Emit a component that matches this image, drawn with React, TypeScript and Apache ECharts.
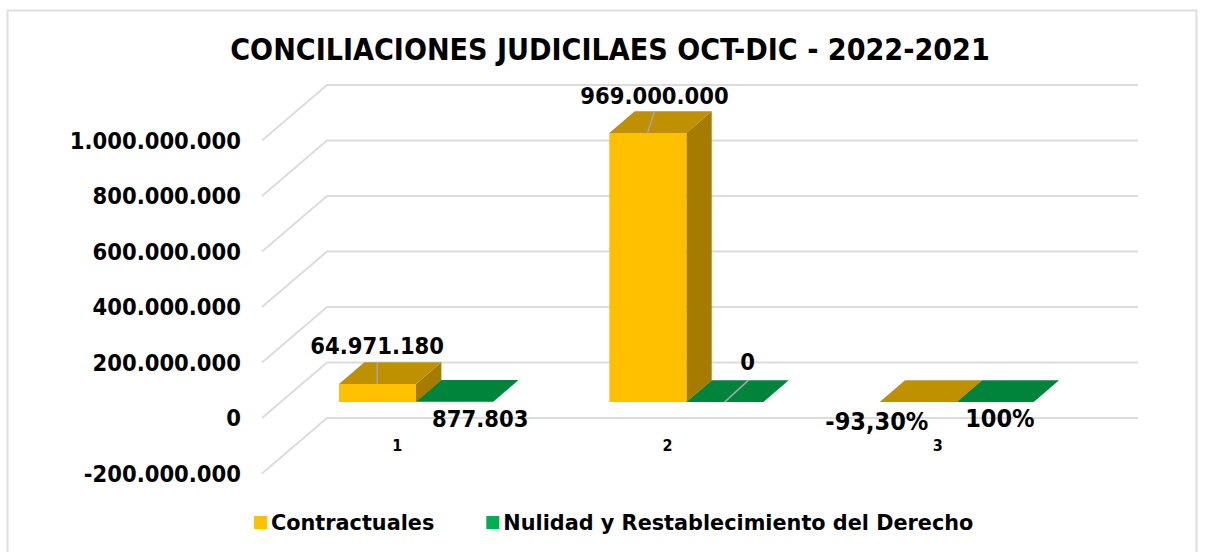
import React, { useEffect, useRef } from "react";
import * as echarts from "echarts";

const chartTitle = "CONCILIACIONES JUDICILAES OCT-DIC - 2022-2021";
const categories = ["1", "2", "3"];
const contractuales = [64971180, 969000000, -0.933];
const nulidad = [877803, 0, 1];
const contractualesLabels = ["64.971.180", "969.000.000", "-93,30%"];
const nulidadLabels = ["877.803", "0", "100%"];
const axisTicks = [-200000000, 0, 200000000, 400000000, 600000000, 800000000, 1000000000];

const FONT = "'DejaVu Sans Condensed', 'DejaVu Sans', sans-serif";
const DX = 65;
const DY = -55.5;
const D_FRONT = 0.29;
const D_BACK = 0.68;
const BAR_RATIO = 0.285;

function fmt(v: number) {
  return String(v).replace(/\B(?=(\d{3})+(?!\d))/g, ".");
}

function barRender(side: -1 | 1, front: string, top: string, right: string) {
  return (params: any, api: any) => {
    const cat = api.value(0);
    const val = api.value(1);
    const w = api.size([1, 0])[0] * BAR_RATIO;
    const base = api.coord([cat, 0]);
    const head = api.coord([cat, val]);
    const x0 = base[0] + DX * D_FRONT + (side < 0 ? -w : 0);
    const x1 = x0 + w;
    const yb = base[1] + DY * D_FRONT;
    const yt = head[1] + DY * D_FRONT;
    const ox = DX * (D_BACK - D_FRONT);
    const oy = DY * (D_BACK - D_FRONT);
    return {
      type: "group",
      children: [
        { type: "polygon", shape: { points: [[x1, yb], [x1 + ox, yb + oy], [x1 + ox, yt + oy], [x1, yt]] }, style: { fill: right } },
        { type: "polygon", shape: { points: [[x0, yt], [x1, yt], [x1 + ox, yt + oy], [x0 + ox, yt + oy]] }, style: { fill: top } },
        { type: "rect", shape: { x: x0, y: yt, width: w, height: yb - yt }, style: { fill: front } },
      ],
    };
  };
}

function wallRender(params: any, api: any) {
  const p = api.coord([0, api.value(1)]);
  const left = params.coordSys.x;
  const right = left + params.coordSys.width;
  return {
    type: "polyline",
    shape: { points: [[left, p[1]], [left + DX, p[1] + DY], [right + DX, p[1] + DY]] },
    style: { fill: "none", stroke: "#DCDCDC", lineWidth: 2 },
  };
}

// label offset from the middle of the bar's top face, and the leader line if one is drawn
const contractualesLabelPos = [
  { dx: -13, dy: -27, size: 23.5, leader: [[-13, 11], [-13, -11]] },
  { dx: -6, dy: -26, size: 23.5, leader: [[-13, 11], [-6, -11]] },
  { dx: -54, dy: 30, size: 25, leader: null },
];
const nulidadLabelPos = [
  { dx: 13, dy: 28, size: 23.5, leader: null },
  { dx: 10, dy: -29, size: 23.5, leader: [[-13, 11], [11, -11]] },
  { dx: -8, dy: 27, size: 25, leader: null },
];

function labelRender(side: -1 | 1, texts: string[], pos: any[]) {
  return (params: any, api: any) => {
    const cat = api.value(0);
    const val = api.value(1);
    const w = api.size([1, 0])[0] * BAR_RATIO;
    const head = api.coord([cat, val]);
    const dm = (D_FRONT + D_BACK) / 2;
    const cx = head[0] + DX * dm + (side * w) / 2;
    const cy = head[1] + DY * dm;
    const p = pos[params.dataIndex];
    const children: any[] = [];
    if (p.leader) {
      children.push({
        type: "line",
        shape: { x1: cx + p.leader[0][0], y1: cy + p.leader[0][1], x2: cx + p.leader[1][0], y2: cy + p.leader[1][1] },
        style: { stroke: "#A6A6A6", lineWidth: 1.5 },
      });
    }
    children.push({
      type: "text",
      x: cx + p.dx,
      y: cy + p.dy,
      style: {
        text: texts[params.dataIndex],
        fontFamily: FONT,
        fontWeight: "bold",
        fontSize: p.size,
        fill: "#000",
        align: "center",
        verticalAlign: "middle",
      },
    });
    return { type: "group", children };
  };
}

export default function App() {
  const ref = useRef<HTMLDivElement>(null);
  useEffect(() => {
    document.body.style.margin = "0";
    const chart = echarts.init(ref.current!, undefined, { renderer: "svg" });
    const enc = { x: 0, y: 1 };
    chart.setOption({
      animation: false,
      backgroundColor: "#fff",
      title: {
        text: chartTitle,
        left: 605,
        top: 29,
        textAlign: "center",
        textStyle: { fontFamily: FONT, fontWeight: "bold", fontSize: 30.1, color: "#000" },
      },
      graphic: [
        { type: "rect", shape: { x: 7.5, y: 10.5, width: 1189, height: 560 }, style: { fill: "none", stroke: "#DEDEDE", lineWidth: 2 }, z: -1 },
      ],
      legend: {
        data: ["Contractuales", "Nulidad y Restablecimiento del Derecho"],
        left: 254,
        top: 512,
        padding: 0,
        icon: "rect",
        itemWidth: 13,
        itemHeight: 13,
        itemGap: 52,
        textStyle: { fontFamily: "'DejaVu Sans', sans-serif", fontWeight: "bold", fontSize: 20.8, color: "#000", padding: [0, 0, 0, -1] },
      },
      grid: { left: 262, right: 135, top: 140.5, bottom: 78.5 },
      xAxis: {
        type: "category",
        data: categories,
        offset: -54,
        axisLine: { show: false, onZero: false },
        axisTick: { show: false },
        axisLabel: { margin: 18, fontFamily: FONT, fontWeight: "bold", fontSize: 16, color: "#000" },
      },
      yAxis: {
        type: "value",
        min: axisTicks[0],
        max: axisTicks[axisTicks.length - 1],
        interval: 200000000,
        axisLine: { show: false },
        axisTick: { show: false },
        splitLine: { show: false },
        axisLabel: { margin: 21, fontFamily: FONT, fontWeight: "bold", fontSize: 23.5, color: "#000", formatter: (v: number) => (v < 0 ? "-" + fmt(-v) : fmt(v)) },
      },
      series: [
        { type: "custom", name: "walls", z: 1, silent: true, clip: false, encode: enc, data: axisTicks.map((v) => [0, v]), renderItem: wallRender },
        { type: "custom", name: "Contractuales", z: 2, clip: false, encode: enc, itemStyle: { color: "#FFC000" }, data: contractuales.map((v, i) => [i, v]), renderItem: barRender(-1, "#FFC000", "#BF9000", "#A67C00") },
        { type: "custom", name: "Nulidad y Restablecimiento del Derecho", z: 2, clip: false, encode: enc, itemStyle: { color: "#00B050" }, data: nulidad.map((v, i) => [i, v]), renderItem: barRender(1, "#00B050", "#00843C", "#006F32") },
        { type: "custom", name: "labelsA", z: 3, silent: true, clip: false, encode: enc, data: contractuales.map((v, i) => [i, v]), renderItem: labelRender(-1, contractualesLabels, contractualesLabelPos) },
        { type: "custom", name: "labelsB", z: 3, silent: true, clip: false, encode: enc, data: nulidad.map((v, i) => [i, v]), renderItem: labelRender(1, nulidadLabels, nulidadLabelPos) },
      ],
    });
    return () => chart.dispose();
  }, []);
  return <div ref={ref} style={{ width: 1208, height: 552 }} />;
}
